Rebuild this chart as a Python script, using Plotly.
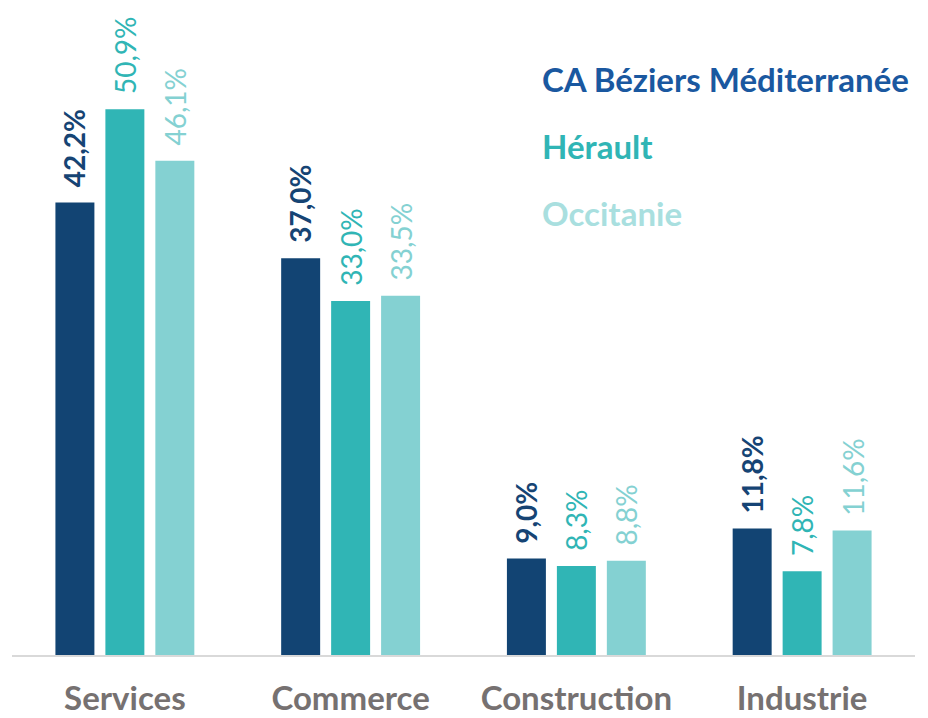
import plotly.graph_objects as go

categories = ["Services", "Commerce", "Construction", "Industrie"]
series_names = ["CA Béziers Méditerranée", "Hérault", "Occitanie"]
beziers = [42.2, 37.0, 9.0, 11.8]
herault = [50.9, 33.0, 8.3, 7.8]
occitanie = [46.1, 33.5, 8.8, 11.6]

bar_colors = ["#124473", "#30b5b5", "#84d1d2"]
label_colors = ["#164474", "#30b5b5", "#84d1d2"]
legend_colors = ["#1a58a0", "#30b5b5", "#a9dfdf"]
FONT = "Lato"

fig = go.Figure()
all_series = [beziers, herault, occitanie]
for name, vals, col in zip(series_names, all_series, bar_colors):
    fig.add_trace(go.Bar(x=categories, y=vals, name=name, marker_color=col,
                         marker_line_width=0, showlegend=False))

def fmt(v):
    return f"{v:.1f}%".replace(".", ",")

offsets = [-50, 0, 50]
for si, vals in enumerate(all_series):
    for c, v in zip(categories, vals):
        fig.add_annotation(x=c, y=v, xref="x", yref="y", text=fmt(v),
                           textangle=-90, showarrow=False,
                           xanchor="center", yanchor="bottom",
                           xshift=offsets[si], yshift=13,
                           font=dict(family=FONT, size=28, color=label_colors[si],
                                     weight="bold" if si == 0 else "normal"))

legend_y = [0.905, 0.799, 0.694]
for name, col, yy in zip(series_names, legend_colors, legend_y):
    fig.add_annotation(x=0.585, y=yy, xref="paper", yref="paper", text=name,
                       showarrow=False, xanchor="left", yanchor="middle",
                       font=dict(family=FONT, size=33, color=col, weight="bold"))

fig.update_layout(
    width=920, height=710,
    margin=dict(l=4, r=13, t=10, b=63, autoexpand=False),
    paper_bgcolor="white", plot_bgcolor="white",
    barmode="group", bargap=0.336, bargroupgap=0.22,
    xaxis=dict(showline=True, linecolor="#d9d9d9", linewidth=2, automargin=False,
               showgrid=False, ticks="", ticklabelstandoff=13,
               tickfont=dict(family=FONT, size=33, color="#767171", weight="bold")),
    yaxis=dict(range=[0, 59.4], visible=False, showgrid=False, zeroline=False,
               automargin=False),
)

fig.write_html("out.html")
